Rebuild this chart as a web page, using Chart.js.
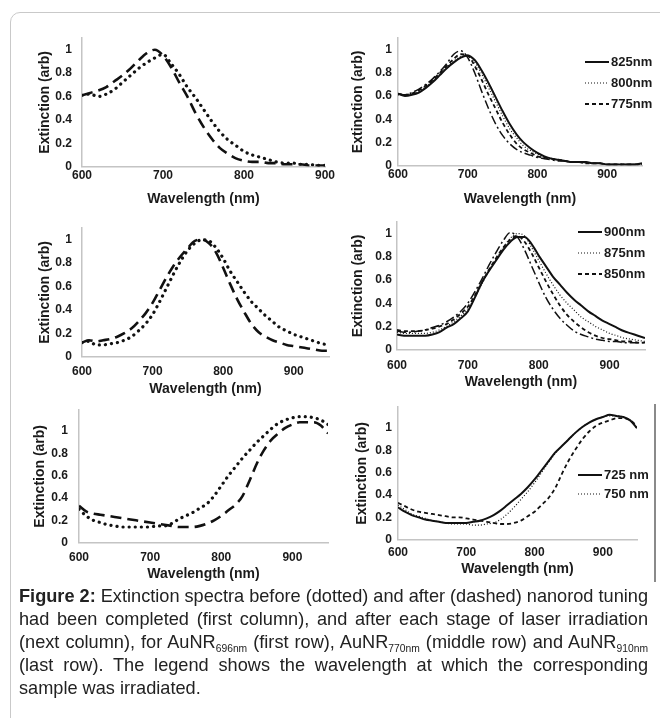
<!DOCTYPE html>
<html>
<head>
<meta charset="utf-8">
<script src="https://cdn.jsdelivr.net/npm/chart.js@4.4.1/dist/chart.umd.min.js"></script>
<style>
  body { margin: 0; width: 660px; height: 718px; position: relative; overflow: hidden; background: #fff; font-family: "Liberation Sans", Arial, sans-serif; }
  .frame { position: absolute; left: 10px; top: 12px; width: 700px; height: 800px; border: 1.5px solid #c9c9c9; border-radius: 10px; }
  .vline { position: absolute; left: 654px; top: 404px; width: 2px; height: 178px; background: #8a8a8a; }
  canvas { position: absolute; }
  .cap { position: absolute; left: 19px; top: 584px; transform-origin: 0 0; font-family: "Liberation Sans", Arial, sans-serif; font-size: 18.5px; line-height: 23px; color: #222; }
  .cap div { text-align: justify; text-align-last: justify; white-space: nowrap; }
  .cap div.last { text-align-last: left; }
  .cap sub { font-size: 10.5px; vertical-align: -4px; line-height: 0; }
  .measure { position: absolute; visibility: hidden; white-space: nowrap; font-family: "Liberation Sans", Arial, sans-serif; font-size: 18.5px; }
  .measure sub { font-size: 10.5px; }
</style>
</head>
<body>
<div class="frame"></div>
<div class="vline"></div>
<canvas id="tl"></canvas>
<canvas id="tr"></canvas>
<canvas id="ml"></canvas>
<canvas id="mr"></canvas>
<canvas id="bl"></canvas>
<canvas id="br"></canvas>
<div class="cap" id="cap">
  <div><b>Figure 2:</b> Extinction spectra before (dotted) and after (dashed) nanorod tuning</div>
  <div>had been completed (first column), and after each stage of laser irradiation</div>
  <div>(next column), for AuNR<sub>696nm</sub> (first row), AuNR<sub>770nm</sub> (middle row) and AuNR<sub>910nm</sub></div>
  <div>(last row). The legend shows the wavelength at which the corresponding</div>
  <div class="last">sample was irradiated.</div>
</div>
<script>
// axis ticks
const xTicks = [600, 700, 800, 900];
const yTicks = [0, 0.2, 0.4, 0.6, 0.8, 1];

// wavelengths (nm)
const wl900 = [600, 610, 620, 630, 640, 650, 660, 670, 680, 690, 700, 710, 720, 730, 740, 750, 760, 770, 780, 790, 800, 810, 820, 830, 840, 850, 860, 870, 880, 890, 900];
const wl950 = [600, 610, 620, 630, 640, 650, 660, 670, 680, 690, 700, 710, 720, 730, 740, 750, 760, 770, 780, 790, 800, 810, 820, 830, 840, 850, 860, 870, 880, 890, 900, 910, 920, 930, 940, 950];

// AuNR696 - tuning (600-900)
const before696 = [0.61, 0.62, 0.60, 0.62, 0.66, 0.72, 0.78, 0.84, 0.89, 0.93, 0.96, 0.88, 0.79, 0.68, 0.59, 0.49, 0.39, 0.30, 0.23, 0.18, 0.13, 0.10, 0.08, 0.06, 0.04, 0.03, 0.03, 0.02, 0.02, 0.01, 0.01];
const after696 = [0.61, 0.63, 0.65, 0.68, 0.73, 0.78, 0.84, 0.91, 0.97, 1.00, 0.95, 0.85, 0.72, 0.60, 0.46, 0.34, 0.24, 0.16, 0.11, 0.07, 0.05, 0.04, 0.04, 0.03, 0.03, 0.02, 0.02, 0.02, 0.01, 0.01, 0.01];

// AuNR696 - irradiation (600-950)
const irr825 = [0.62, 0.60, 0.61, 0.63, 0.67, 0.72, 0.78, 0.84, 0.89, 0.93, 0.95, 0.91, 0.82, 0.71, 0.59, 0.47, 0.36, 0.27, 0.20, 0.15, 0.11, 0.08, 0.06, 0.05, 0.04, 0.03, 0.03, 0.03, 0.02, 0.02, 0.01, 0.01, 0.01, 0.01, 0.01, 0.02];
const irr800 = [0.61, 0.61, 0.62, 0.64, 0.68, 0.73, 0.79, 0.85, 0.90, 0.94, 0.95, 0.89, 0.79, 0.67, 0.55, 0.43, 0.32, 0.24, 0.17, 0.13, 0.10, 0.07, 0.06, 0.05, 0.04, 0.03, 0.03, 0.02, 0.02, 0.02, 0.01, 0.01, 0.01, 0.01, 0.01, 0.01];
const irr775 = [0.62, 0.61, 0.62, 0.65, 0.69, 0.74, 0.80, 0.86, 0.92, 0.96, 0.95, 0.86, 0.74, 0.61, 0.49, 0.37, 0.27, 0.19, 0.14, 0.11, 0.08, 0.07, 0.06, 0.05, 0.04, 0.03, 0.03, 0.02, 0.02, 0.02, 0.01, 0.01, 0.01, 0.01, 0.01, 0.01];
const irr750 = [0.62, 0.61, 0.63, 0.66, 0.70, 0.75, 0.81, 0.88, 0.96, 0.99, 0.93, 0.80, 0.64, 0.49, 0.36, 0.26, 0.19, 0.14, 0.11, 0.09, 0.07, 0.06, 0.05, 0.04, 0.04, 0.03, 0.03, 0.02, 0.02, 0.02, 0.01, 0.01, 0.01, 0.01, 0.01, 0.01];

// AuNR770 - tuning
const before770 = [0.12, 0.13, 0.10, 0.10, 0.11, 0.12, 0.14, 0.17, 0.22, 0.28, 0.36, 0.47, 0.59, 0.71, 0.82, 0.91, 0.97, 1.00, 0.99, 0.93, 0.84, 0.73, 0.64, 0.55, 0.47, 0.41, 0.35, 0.30, 0.25, 0.22, 0.19, 0.17, 0.15, 0.13, 0.11, 0.10];
const after770 = [0.12, 0.14, 0.13, 0.14, 0.15, 0.17, 0.20, 0.24, 0.30, 0.37, 0.46, 0.57, 0.68, 0.78, 0.86, 0.93, 0.99, 1.00, 0.97, 0.89, 0.76, 0.62, 0.49, 0.38, 0.28, 0.21, 0.17, 0.14, 0.12, 0.10, 0.09, 0.08, 0.07, 0.06, 0.05, 0.05];

// AuNR770 - irradiation
const irr900 = [0.13, 0.12, 0.12, 0.12, 0.12, 0.13, 0.15, 0.19, 0.22, 0.27, 0.33, 0.45, 0.58, 0.68, 0.77, 0.86, 0.93, 0.97, 0.97, 0.91, 0.81, 0.72, 0.63, 0.56, 0.49, 0.43, 0.38, 0.33, 0.29, 0.25, 0.22, 0.19, 0.16, 0.14, 0.12, 0.10];
const irr875 = [0.15, 0.14, 0.14, 0.14, 0.14, 0.15, 0.17, 0.20, 0.24, 0.29, 0.35, 0.45, 0.57, 0.68, 0.78, 0.88, 0.96, 1.00, 0.98, 0.88, 0.77, 0.66, 0.56, 0.47, 0.40, 0.34, 0.28, 0.24, 0.20, 0.17, 0.14, 0.12, 0.10, 0.09, 0.08, 0.07];
const irr850 = [0.17, 0.16, 0.16, 0.16, 0.17, 0.18, 0.20, 0.22, 0.26, 0.31, 0.37, 0.47, 0.58, 0.69, 0.79, 0.88, 0.95, 0.98, 0.93, 0.83, 0.71, 0.59, 0.48, 0.38, 0.30, 0.24, 0.19, 0.15, 0.12, 0.10, 0.09, 0.08, 0.07, 0.07, 0.06, 0.06];
const irr825b = [0.16, 0.15, 0.15, 0.16, 0.17, 0.19, 0.21, 0.24, 0.28, 0.33, 0.40, 0.50, 0.61, 0.73, 0.84, 0.94, 1.01, 0.97, 0.86, 0.72, 0.58, 0.45, 0.35, 0.27, 0.21, 0.16, 0.13, 0.11, 0.09, 0.08, 0.07, 0.07, 0.06, 0.06, 0.06, 0.06];

// AuNR910 - tuning
const before910 = [0.30, 0.24, 0.20, 0.18, 0.16, 0.15, 0.14, 0.14, 0.14, 0.14, 0.14, 0.15, 0.15, 0.17, 0.21, 0.24, 0.27, 0.31, 0.35, 0.42, 0.51, 0.60, 0.68, 0.76, 0.83, 0.90, 0.96, 1.02, 1.07, 1.10, 1.12, 1.13, 1.13, 1.12, 1.10, 1.06];
const after910 = [0.33, 0.28, 0.26, 0.25, 0.24, 0.23, 0.22, 0.21, 0.20, 0.19, 0.18, 0.17, 0.16, 0.15, 0.14, 0.14, 0.14, 0.15, 0.17, 0.20, 0.24, 0.29, 0.34, 0.42, 0.56, 0.71, 0.83, 0.92, 0.98, 1.03, 1.06, 1.08, 1.08, 1.08, 1.05, 0.98];

// AuNR910 - irradiation
const irr725 = [0.29, 0.25, 0.22, 0.20, 0.18, 0.17, 0.16, 0.15, 0.15, 0.15, 0.15, 0.16, 0.17, 0.19, 0.22, 0.26, 0.31, 0.36, 0.41, 0.47, 0.54, 0.62, 0.70, 0.78, 0.84, 0.90, 0.96, 1.01, 1.05, 1.08, 1.10, 1.12, 1.11, 1.10, 1.07, 1.00];
const irr750b = [0.31, 0.27, 0.23, 0.21, 0.19, 0.17, 0.16, 0.15, 0.14, 0.14, 0.14, 0.13, 0.13, 0.14, 0.15, 0.18, 0.23, 0.29, 0.36, 0.43, 0.51, 0.60, 0.69, 0.77, 0.84, 0.90, 0.96, 1.01, 1.05, 1.08, 1.10, 1.11, 1.11, 1.10, 1.07, 1.00];
const irrPrev910 = [0.33, 0.30, 0.27, 0.25, 0.24, 0.23, 0.22, 0.21, 0.20, 0.20, 0.19, 0.18, 0.17, 0.16, 0.15, 0.14, 0.14, 0.15, 0.17, 0.21, 0.25, 0.31, 0.37, 0.46, 0.59, 0.71, 0.81, 0.90, 0.97, 1.02, 1.05, 1.07, 1.09, 1.09, 1.07, 1.02];

// line styles
const dotBig = { borderDash: [0.1, 6], borderWidth: 3.2, borderCapStyle: 'round' };
const dashBig = { borderDash: [11, 6], borderWidth: 2.6 };
const solid = { borderWidth: 2 };
const dotThin = { borderDash: [1, 2], borderWidth: 1.2 };
const dashThin = { borderDash: [4, 3], borderWidth: 1.8 };
const dashDot = { borderDash: [9, 3, 2, 3], borderWidth: 1.5 };

Chart.defaults.font.family = '"Liberation Sans", Arial, sans-serif';
Chart.defaults.color = '#1a1a1a';

function series(label, xs, ys, style) {
  return Object.assign({
    label: label,
    data: xs.map((x, i) => ({ x: x, y: ys[i] })),
    borderColor: '#111',
    pointRadius: 0,
    fill: false,
    cubicInterpolationMode: 'monotone'
  }, style);
}

// draws the small legend inside the plot area
const inlineLegend = {
  id: 'inlineLegend',
  afterDraw(chart, args, opts) {
    if (!opts.labels || !opts.labels.length) return;
    const ctx = chart.ctx;
    ctx.save();
    for (let i = 0; i < opts.labels.length; i++) {
      const ds = chart.data.datasets[opts.labels[i]];
      const y = opts.y + i * opts.gap;
      ctx.beginPath();
      ctx.setLineDash(ds.borderDash || []);
      ctx.lineWidth = ds.borderWidth;
      ctx.lineCap = ds.borderCapStyle || 'butt';
      ctx.strokeStyle = ds.borderColor;
      ctx.moveTo(opts.x, y);
      ctx.lineTo(opts.x + 24, y);
      ctx.stroke();
      ctx.setLineDash([]);
      ctx.fillStyle = '#1a1a1a';
      ctx.font = 'bold 13px "Liberation Sans", Arial, sans-serif';
      ctx.textBaseline = 'middle';
      ctx.fillText(ds.label, opts.x + 26, y);
    }
    ctx.restore();
  }
};

function panel(id, area, xMax, yMax, yTitleX, xTitleY, xTickPad, yTickPad, datasets, legend) {
  // y tick labels ask for half a label + tick padding above the plot
  const padL = 4, padT = Math.ceil(7.2 + yTickPad + 1), padR = 24, padB = 2;
  const yw = area.L - yTitleX + 12.4;
  const xh = xTitleY - area.B + 12.4;
  const left = Math.round(area.L - yw - padL);
  const top = area.T - padT;
  const el = document.getElementById(id);
  el.width = Math.round(area.R - left + padR);
  el.height = Math.round(area.B - top + xh + padB);
  el.style.left = left + 'px';
  el.style.top = top + 'px';
  const lg = legend ? { labels: legend.labels, x: legend.x - left, y: legend.y - top, gap: legend.gap } : { labels: [] };

  new Chart(el, {
    type: 'line',
    data: { datasets: datasets },
    plugins: [inlineLegend],
    options: {
      responsive: false,
      animation: false,
      layout: { padding: { left: area.L - yw - left, top: padT, right: padR, bottom: padB } },
      plugins: { legend: { display: false }, tooltip: { enabled: false }, inlineLegend: lg },
      scales: {
        x: {
          type: 'linear', min: 600, max: xMax,
          grid: { display: false, drawTicks: false },
          border: { color: '#c4c4c4', width: 1.5 },
          ticks: { padding: xTickPad, font: { size: 12, weight: 'bold' }, callback: v => String(v) },
          afterBuildTicks: s => { s.ticks = xTicks.map(v => ({ value: v })); },
          afterFit: s => { s.height = xh; },
          title: { display: true, text: 'Wavelength (nm)', font: { size: 14, weight: 'bold' } }
        },
        y: {
          min: 0, max: yMax,
          grid: { display: false, drawTicks: false },
          border: { color: '#c4c4c4', width: 1.5 },
          ticks: { padding: yTickPad, font: { size: 12, weight: 'bold' }, callback: v => String(v) },
          afterBuildTicks: s => { s.ticks = yTicks.map(v => ({ value: v })); },
          afterFit: s => { s.width = yw; },
          title: { display: true, text: 'Extinction (arb)', font: { size: 14, weight: 'bold' } }
        }
      }
    }
  });
}

panel('tl', { L: 82, R: 325, T: 38, B: 167 }, 900, 1.1, 45, 200, 1.5, 10, [
  series('before', wl900, before696, dotBig),
  series('after', wl900, after696, dashBig)
]);

panel('tr', { L: 398, R: 642, T: 38, B: 166 }, 950, 1.1, 358, 200, 2, 6, [
  series('825nm', wl950, irr825, solid),
  series('800nm', wl950, irr800, dotThin),
  series('775nm', wl950, irr775, dashThin),
  series('750nm', wl950, irr750, dashDot)
], { labels: [0, 1, 2], x: 585, y: 62, gap: 21 });

panel('ml', { L: 82, R: 329, T: 228, B: 357 }, 950, 1.1, 45, 390, 8, 10, [
  series('before', wl950, before770, dotBig),
  series('after', wl950, after770, dashBig)
]);

panel('mr', { L: 397, R: 645, T: 222, B: 350 }, 950, 1.1, 358, 383, 9, 5, [
  series('900nm', wl950, irr900, solid),
  series('875nm', wl950, irr875, dotThin),
  series('850nm', wl950, irr850, dashThin),
  series('825nm', wl950, irr825b, dashDot)
], { labels: [0, 1, 2], x: 578, y: 232, gap: 21 });

panel('bl', { L: 79, R: 328, T: 410, B: 543 }, 950, 1.19, 40, 575, 8, 11, [
  series('before', wl950, before910, dotBig),
  series('after', wl950, after910, dashBig)
]);

panel('br', { L: 398, R: 637, T: 407, B: 540 }, 950, 1.19, 362, 570, 6, 6, [
  series('725 nm', wl950, irr725, solid),
  series('750 nm', wl950, irr750b, dotThin),
  series('700 nm', wl950, irrPrev910, dashThin)
], { labels: [0, 1], x: 578, y: 475, gap: 19 });

// fit the caption lines to the 629px text block: measure natural widths, then squeeze
const cap = document.getElementById('cap');
let widest = 0;
cap.querySelectorAll('div').forEach(d => {
  const m = document.createElement('span');
  m.className = 'measure';
  m.innerHTML = d.innerHTML;
  document.body.appendChild(m);
  widest = Math.max(widest, m.getBoundingClientRect().width);
  m.remove();
});
cap.style.width = widest + 'px';
cap.style.transform = 'scaleX(' + (629 / widest) + ')';
</script>
</body>
</html>
